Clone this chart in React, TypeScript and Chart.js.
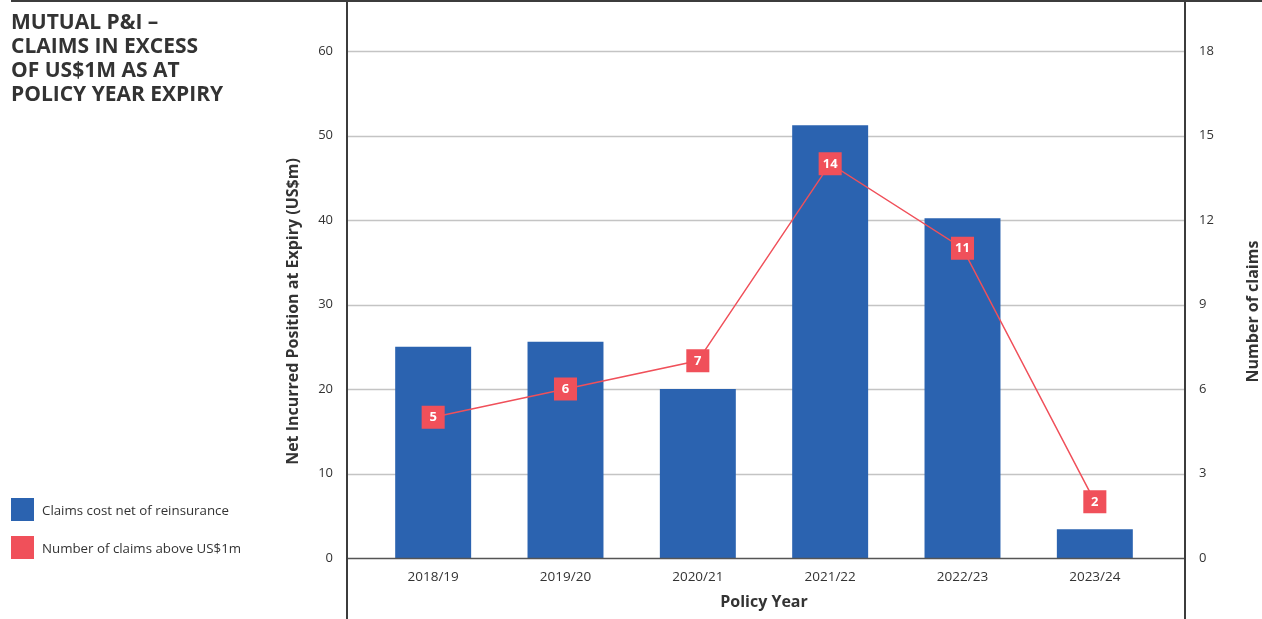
import React, { useEffect, useRef } from "react";
import { Chart, registerables } from "chart.js";

Chart.register(...registerables);

const categories = ["2018/19", "2019/20", "2020/21", "2021/22", "2022/23", "2023/24"];
const claimsCost = [25.0, 25.6, 20.0, 51.2, 40.2, 3.4];
const claimsCount = [5, 6, 7, 14, 11, 2];
const leftTicks = [0, 10, 20, 30, 40, 50, 60];
const rightTicks = [0, 3, 6, 9, 12, 15, 18];

const titleLines = ["MUTUAL P&I –", "CLAIMS IN EXCESS", "OF US$1M AS AT", "POLICY YEAR EXPIRY"];
const legendItems = ["Claims cost net of reinsurance", "Number of claims above US$1m"];

const BLUE = "#2b63b0";
const RED = "#f0505a";
const TEXT = "#333333";
const FONT = "'Open Sans', 'Noto Sans', sans-serif";

const decorPlugin = {
  id: "decor",
  beforeDatasetsDraw(chart: any) {
    const ctx = chart.ctx;
    const y = chart.scales.y;
    const ca = chart.chartArea;
    ctx.save();
    ctx.strokeStyle = "#c4c4c4";
    ctx.lineWidth = 1.5;
    leftTicks.forEach((t) => {
      if (t === 0) return;
      const py = Math.round(y.getPixelForValue(t)) + 0.5;
      ctx.beginPath();
      ctx.moveTo(ca.left - 20, py);
      ctx.lineTo(ca.right + 24, py);
      ctx.stroke();
    });
    ctx.restore();
  },
  afterDatasetsDraw(chart: any) {
    const ctx = chart.ctx;
    const y = chart.scales.y;
    const ca = chart.chartArea;
    ctx.save();
    ctx.strokeStyle = "#555555";
    ctx.lineWidth = 1.5;
    const py0 = Math.round(y.getPixelForValue(0)) + 0.5;
    ctx.beginPath();
    ctx.moveTo(ca.left - 20, py0);
    ctx.lineTo(ca.right + 24, py0);
    ctx.stroke();
    const meta = chart.getDatasetMeta(1);
    ctx.fillStyle = "#ffffff";
    ctx.font = `bold 13px ${FONT}`;
    ctx.textAlign = "center";
    ctx.textBaseline = "middle";
    meta.data.forEach((el: any, i: number) => {
      ctx.fillText(String(claimsCount[i]), el.x, el.y + 0.5);
    });
    ctx.restore();
  },
  afterDraw(chart: any) {
    const ctx = chart.ctx;
    const ca = chart.chartArea;
    const W = chart.width;
    const H = chart.height;
    ctx.save();
    ctx.strokeStyle = "#3c3c3c";
    ctx.lineWidth = 2;
    ctx.beginPath();
    ctx.moveTo(11, 1);
    ctx.lineTo(W, 1);
    ctx.stroke();
    ctx.beginPath();
    ctx.moveTo(ca.left - 20, 0);
    ctx.lineTo(ca.left - 20, H);
    ctx.stroke();
    ctx.beginPath();
    ctx.moveTo(ca.right + 24, 0);
    ctx.lineTo(ca.right + 24, H);
    ctx.stroke();
    ctx.fillStyle = TEXT;
    ctx.font = `bold 16px ${FONT}`;
    ctx.textAlign = "center";
    ctx.textBaseline = "middle";
    const midY = (ca.top + ca.bottom) / 2 + 7;
    ctx.save();
    ctx.translate(293, midY);
    ctx.rotate(-Math.PI / 2);
    ctx.fillText("Net Incurred Position at Expiry (US$m)", 0, 0);
    ctx.restore();
    ctx.save();
    ctx.translate(1253, midY);
    ctx.rotate(-Math.PI / 2);
    ctx.fillText("Number of claims", 0, 0);
    ctx.restore();
    ctx.fillText("Policy Year", (ca.left + ca.right) / 2, 602);
    ctx.restore();
  },
};

export default function App() {
  const canvasRef = useRef<HTMLCanvasElement | null>(null);

  useEffect(() => {
    document.body.style.margin = "0";
    const canvas = canvasRef.current;
    if (!canvas) return;
    const chart = new Chart(canvas, {
      type: "bar",
      data: {
        labels: categories,
        datasets: [
          {
            type: "bar",
            label: legendItems[0],
            data: claimsCost,
            backgroundColor: BLUE,
            yAxisID: "y",
            categoryPercentage: 1,
            barPercentage: 0.574,
            order: 1,
          },
          {
            type: "line",
            label: legendItems[1],
            data: claimsCount,
            borderColor: RED,
            borderWidth: 1.5,
            backgroundColor: RED,
            pointStyle: "rect",
            pointRadius: 16.3,
            pointHoverRadius: 16.3,
            pointBorderWidth: 0,
            pointBackgroundColor: RED,
            tension: 0,
            yAxisID: "y1",
            order: 0,
          },
        ] as any,
      },
      options: {
        animation: false,
        responsive: false,
        devicePixelRatio: 1,
        layout: { padding: { top: 51, left: 0, right: 0, bottom: 0 } },
        plugins: {
          legend: { display: false },
          tooltip: { enabled: false },
        },
        scales: {
          x: {
            grid: { display: false, drawTicks: false, tickLength: 0 },
            border: { display: false },
            ticks: {
              color: TEXT,
              font: { family: FONT, size: 13.5 },
              padding: 11,
            },
            afterFit(scale: any) {
              scale.height = 61;
            },
          },
          y: {
            position: "left",
            min: 0,
            max: 60,
            grid: { display: false, drawTicks: false, tickLength: 0 },
            border: { display: false },
            afterBuildTicks(scale: any) {
              scale.ticks = leftTicks.map((v) => ({ value: v }));
            },
            ticks: {
              color: TEXT,
              font: { family: FONT, size: 13 },
              padding: 34,
            },
            afterFit(scale: any) {
              scale.width = 367;
            },
          },
          y1: {
            position: "right",
            min: 0,
            max: 18,
            grid: { display: false, drawTicks: false, tickLength: 0 },
            border: { display: false },
            afterBuildTicks(scale: any) {
              scale.ticks = rightTicks.map((v) => ({ value: v }));
            },
            ticks: {
              color: TEXT,
              font: { family: FONT, size: 13 },
              padding: 38,
            },
            afterFit(scale: any) {
              scale.width = 101;
            },
          },
        },
      } as any,
      plugins: [decorPlugin],
    });
    return () => chart.destroy();
  }, []);

  return (
    <div style={{ position: "relative", width: 1262, height: 619, overflow: "hidden", fontFamily: FONT }}>
      <canvas ref={canvasRef} width={1262} height={619} style={{ position: "absolute", left: 0, top: 0 }} />
      <div
        style={{
          position: "absolute",
          left: 11,
          top: 9,
          fontSize: 21,
          lineHeight: "24px",
          fontWeight: 700,
          color: TEXT,
        }}
      >
        {titleLines.map((l, i) => (
          <div key={i}>{l}</div>
        ))}
      </div>
      {legendItems.map((label, i) => (
        <div
          key={i}
          style={{
            position: "absolute",
            left: 11,
            top: 498 + i * 38,
            height: 23,
            display: "flex",
            alignItems: "center",
            fontSize: 13.3,
            color: TEXT,
          }}
        >
          <span style={{ display: "inline-block", width: 23, height: 23, background: i === 0 ? BLUE : RED, marginRight: 8 }} />
          <span>{label}</span>
        </div>
      ))}
    </div>
  );
}
